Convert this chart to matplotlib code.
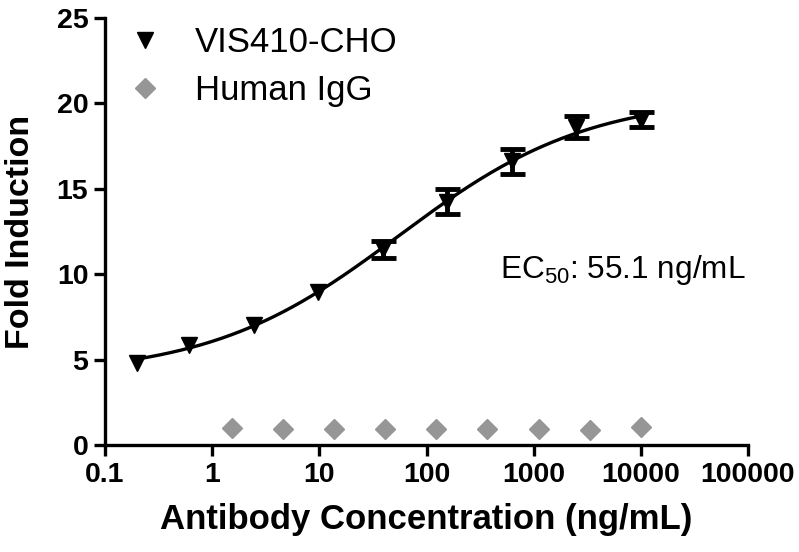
import numpy as np
import matplotlib
matplotlib.use("Agg")
import matplotlib.pyplot as plt
from matplotlib.lines import Line2D

# ---- data ----
vis_conc = [0.2, 0.61, 2.44, 9.77, 39.1, 156.0, 625.0, 2500.0, 10000.0]
vis_fold = [4.8, 5.85, 7.05, 8.95, 11.45, 14.25, 16.6, 18.6, 19.05]
vis_err = [0.0, 0.0, 0.0, 0.0, 0.5, 0.75, 0.75, 0.65, 0.45]

igg_conc = [1.52, 4.57, 13.7, 41.2, 123.0, 370.0, 1111.0, 3333.0, 10000.0]
igg_fold = [1.0, 0.95, 0.95, 0.95, 0.95, 0.95, 0.95, 0.9, 1.05]

fit_ec50 = 55.1

x_ticks = [0.1, 1, 10, 100, 1000, 10000, 100000]
x_ticklabels = ["0.1", "1", "10", "100", "1000", "10000", "100000"]
y_ticks = [0, 5, 10, 15, 20, 25]

# ---- 4PL fit with EC50 fixed (grid search least squares) ----
cx = np.array(vis_conc)
cy = np.array(vis_fold)
B = np.linspace(2.0, 6.0, 81)[:, None, None]
T = np.linspace(18.0, 23.0, 101)[None, :, None]
H = np.linspace(0.3, 1.2, 91)[None, None, :]
sse = np.zeros((B.size, T.size, H.size))
for xi, yi in zip(cx, cy):
    pred = B + (T - B) / (1 + (fit_ec50 / xi) ** H)
    sse += (pred - yi) ** 2
ib, it, ih = np.unravel_index(np.argmin(sse), sse.shape)
fit_bottom, fit_top, fit_hill = B.ravel()[ib], T.ravel()[it], H.ravel()[ih]

plt.rcParams['mathtext.fontset'] = 'custom'
plt.rcParams['mathtext.rm'] = 'Liberation Sans'
plt.rcParams['mathtext.it'] = 'Liberation Sans'

fam = ['Liberation Sans']

fig = plt.figure(figsize=(7.99, 5.52), dpi=100)
ax = fig.add_axes([105/799, 1-445/552, (748-105)/799, (445-18)/552])

xs = np.logspace(np.log10(0.2), np.log10(10000), 400)
ys = fit_bottom + (fit_top - fit_bottom) / (1 + (fit_ec50 / xs) ** fit_hill)
ax.plot(xs, ys, color='black', lw=2.4, zorder=2)

err = np.array(vis_err)
has = err > 0
ax.errorbar(cx[has], cy[has], yerr=err[has], fmt='none', ecolor='black',
            capsize=9, capthick=3.5, elinewidth=3.5, zorder=3)
ax.plot(cx, cy, 'v', color='black', ms=12, ls='none', zorder=4)
ax.plot(igg_conc, igg_fold, 'D', color='#969696', ms=10.5, ls='none', zorder=3)

ax.set_xscale('log')
ax.set_xlim(0.1, 100000)
ax.set_ylim(0, 25)
ax.set_xticks(x_ticks)
ax.set_xticklabels(x_ticklabels)
ax.minorticks_off()
ax.set_yticks(y_ticks)

for s in ['top', 'right']:
    ax.spines[s].set_visible(False)
for s in ['left', 'bottom']:
    ax.spines[s].set_linewidth(2.4)
ax.tick_params(axis='both', direction='out', length=8, width=2.4, pad=4)
for lab in ax.get_xticklabels() + ax.get_yticklabels():
    lab.set_fontfamily(fam)
    lab.set_fontweight('bold')
    lab.set_fontsize(20.5)

ax.set_xlabel('Antibody Concentration (ng/mL)', fontsize=25, fontweight='bold',
              family=fam)
ax.xaxis.set_label_coords(0.5, -0.136)
ax.set_ylabel('Fold Induction', fontsize=24.5, fontweight='bold', family=fam)
ax.yaxis.set_label_coords(-0.108, 0.5)

ax.text((500-105)/643, (445-270)/427, r'EC$_{50}$: 55.1 ng/mL',
        transform=ax.transAxes, fontsize=22.7, family=fam, va='center', ha='left')

handles = [Line2D([], [], marker='v', color='black', ls='none', ms=12),
           Line2D([], [], marker='D', color='#969696', ls='none', ms=10.5)]
labels = ['VIS410-CHO', 'Human IgG']
ax.legend(handles, labels, loc='upper left', bbox_to_anchor=(0.035, 0.981),
          frameon=False, prop={'family': fam, 'size': 25},
          handletextpad=0.94, labelspacing=0.42, borderaxespad=0.0,
          borderpad=0.0, handlelength=1.0)

fig.savefig('out.png', dpi=100)
